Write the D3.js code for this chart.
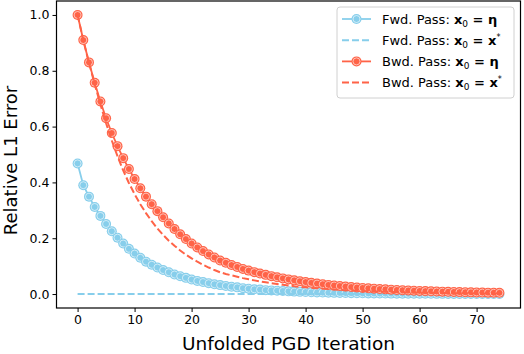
<!DOCTYPE html>
<html><head><meta charset="utf-8">
<script src="https://cdn.jsdelivr.net/npm/d3@7"></script>
<style>
html,body{margin:0;padding:0;background:#fff;}
svg{display:block;font-family:"DejaVu Sans",sans-serif;}
</style></head>
<body><svg id="chart" width="524" height="354"></svg>
<script>
const iterations = d3.range(0, 75);
const fwdEta = [0.468,0.390,0.349,0.312,0.280,0.251,0.225,0.202,0.181,0.162,0.145,0.130,0.116,0.105,0.095,0.086,0.078,0.070,0.064,0.058,0.052,0.047,0.043,0.039,0.035,0.032,0.029,0.026,0.024,0.021,0.019,0.017,0.016,0.014,0.013,0.012,0.011,0.0096,0.0087,0.0079,0.0071,0.0064,0.0058,0.0053,0.0048,0.0043,0.0039,0.0035,0.0032,0.0029,0.0026,0.0024,0.0021,0.0019,0.0017,0.0016,0.0014,0.0013,0.0012,0.0011,0.0010,0.0009,0.0008,0.0007,0.0007,0.0006,0.0005,0.0005,0.0004,0.0004,0.0003,0.0003,0.0003,0.0003,0.0002];
const fwdXstar = [0,0,0,0,0,0,0,0,0,0,0,0,0,0,0,0,0,0,0,0,0,0,0,0,0,0,0,0,0,0,0,0,0,0,0,0,0,0,0,0,0,0,0,0,0,0,0,0,0,0,0,0,0,0,0,0,0,0,0,0,0,0,0,0,0,0,0,0,0,0,0,0,0,0,0];
const bwdEta = [1.000,0.910,0.830,0.757,0.690,0.630,0.577,0.530,0.487,0.448,0.412,0.379,0.349,0.322,0.297,0.275,0.253,0.233,0.214,0.197,0.181,0.167,0.154,0.142,0.131,0.120,0.112,0.104,0.097,0.090,0.084,0.0785,0.0734,0.0687,0.0642,0.0600,0.0561,0.0525,0.0491,0.0459,0.0429,0.0401,0.0375,0.0351,0.0328,0.0307,0.0287,0.0268,0.0251,0.0235,0.0219,0.0205,0.0192,0.0179,0.0168,0.0157,0.0147,0.0137,0.0128,0.0120,0.0112,0.0105,0.0098,0.0092,0.0086,0.0080,0.0075,0.0070,0.0066,0.0061,0.0057,0.0054,0.0050,0.0047,0.0044];
const bwdXstar = [1.000,0.910,0.828,0.752,0.680,0.612,0.550,0.494,0.443,0.398,0.358,0.322,0.290,0.261,0.235,0.212,0.191,0.173,0.156,0.141,0.128,0.116,0.105,0.095,0.086,0.078,0.072,0.067,0.062,0.057,0.053,0.049,0.045,0.042,0.039,0.036,0.033,0.031,0.028,0.026,0.024,0.022,0.021,0.019,0.018,0.016,0.015,0.014,0.013,0.012,0.011,0.010,0.0094,0.0087,0.0080,0.0074,0.0069,0.0064,0.0059,0.0055,0.0050,0.0047,0.0043,0.0040,0.0037,0.0034,0.0032,0.0029,0.0027,0.0025,0.0023,0.0021,0.0020,0.0018,0.0017];
const xTicks = [0,10,20,30,40,50,60,70];
const yTicks = [0.0,0.2,0.4,0.6,0.8,1.0];
const BLUE = "#87CEEB", RED = "#FF6347";

const series = [
  {name:"Fwd. Pass: ", sup:false, values:fwdEta, color:BLUE, dashed:false, marker:true},
  {name:"Fwd. Pass: ", sup:true,  values:fwdXstar, color:BLUE, dashed:true, marker:false},
  {name:"Bwd. Pass: ", sup:false, values:bwdEta, color:RED, dashed:false, marker:true},
  {name:"Bwd. Pass: ", sup:true,  values:bwdXstar, color:RED, dashed:true, marker:false}
];

const svg = d3.select("#chart");
const L = 56.5, R = 520.5, T = 1, B = 308;
const x = d3.scaleLinear().domain([-3.7, 77.7]).range([L, R]);
const y = d3.scaleLinear().domain([-0.05, 1.05]).range([B, T]);

const line = d3.line().x((d,i)=>x(iterations[i])).y(d=>y(d));
const DASH = "7,3";

function drawMarker(g, cx, cy, color){
  g.append("circle").attr("cx",cx).attr("cy",cy).attr("r",5).attr("fill",color);
  g.append("circle").attr("cx",cx).attr("cy",cy).attr("r",3.5).attr("fill","none").attr("stroke","#fff").attr("stroke-width",0.7).attr("stroke-opacity",0.85);
}

const plot = svg.append("g");
series.forEach(s=>{
  plot.append("path").datum(s.values).attr("d",line)
    .attr("fill","none").attr("stroke",s.color).attr("stroke-width",s.dashed?2:1.8)
    .attr("stroke-dasharray",s.dashed?DASH:null);
  if(s.marker){
    const mg = plot.append("g");
    s.values.forEach((v,i)=>drawMarker(mg, x(iterations[i]), y(v), s.color));
  }
});

// axes
const xAxis = d3.axisBottom(x).tickValues(xTicks).tickSize(4).tickPadding(3).tickFormat(d3.format("d"));
const yAxis = d3.axisLeft(y).tickValues(yTicks).tickSize(4).tickPadding(3).tickFormat(d3.format(".1f"));
const gx = svg.append("g").attr("transform",`translate(0,${B})`).call(xAxis);
const gy = svg.append("g").attr("transform",`translate(${L},0)`).call(yAxis);
[gx,gy].forEach(g=>{
  g.select(".domain").remove();
  g.selectAll(".tick line").attr("stroke","#000").attr("stroke-width",1);
  g.selectAll(".tick text").attr("font-size",12.5).attr("fill","#000").attr("font-family","DejaVu Sans");
});
svg.append("rect").attr("x",L).attr("y",T).attr("width",R-L).attr("height",B-T)
  .attr("fill","none").attr("stroke","#000").attr("stroke-width",1.2);

svg.append("text").attr("x",(L+R)/2).attr("y",350).attr("text-anchor","middle")
  .attr("font-size",18.5).text("Unfolded PGD Iteration");
svg.append("text").attr("transform",`translate(17,${(T+B)/2+6}) rotate(-90)`).attr("text-anchor","middle")
  .attr("font-size",18).text("Relative L1 Error");

// legend
const lg = svg.append("g");
lg.append("rect").attr("x",337).attr("y",7).attr("width",177).attr("height",91).attr("rx",3)
  .attr("fill","#fff").attr("fill-opacity",0.8).attr("stroke","#d0d0d0").attr("stroke-width",1);
series.forEach((s,i)=>{
  const cy = 19 + i*21.2;
  lg.append("line").attr("x1",342).attr("x2",371).attr("y1",cy).attr("y2",cy)
    .attr("stroke",s.color).attr("stroke-width",s.dashed?2:1.8).attr("stroke-dasharray",s.dashed?DASH:null);
  if(s.marker) drawMarker(lg, 356.5, cy, s.color);
  const t = lg.append("text").attr("x",382).attr("y",cy+4.5).attr("font-size",13);
  t.append("tspan").text(s.name);
  t.append("tspan").attr("font-weight","bold").text("x");
  t.append("tspan").attr("font-size",9).attr("dy",3).text("0");
  t.append("tspan").attr("dy",-3).attr("font-weight","bold").text(" = ");
  if(s.sup){
    t.append("tspan").attr("font-weight","bold").text("x");
    t.append("tspan").attr("font-size",8).attr("dy",-5).text("*");
  } else {
    t.append("tspan").attr("font-weight","bold").text("η");
  }
});
</script></body></html>
